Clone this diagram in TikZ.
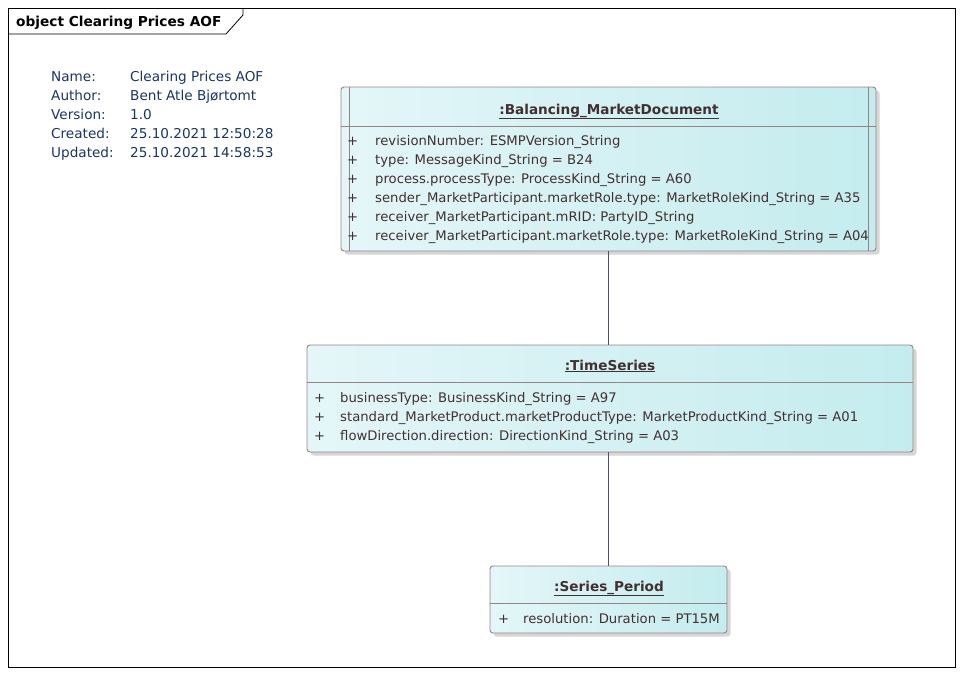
\documentclass[tikz,border=0pt]{standalone}
\usepackage{fontspec}
\setmainfont{DejaVu Sans}
\definecolor{bord}{RGB}{150,132,132}
\definecolor{fillL}{RGB}{228,246,248}
\definecolor{fillR}{RGB}{196,236,238}
\definecolor{txt}{RGB}{66,48,48}
\definecolor{navy}{RGB}{28,52,100}
\definecolor{conn}{RGB}{80,80,110}
\definecolor{shad}{RGB}{214,214,214}
\tikzset{
  umlbox/.style={rectangle, rounded corners=3pt, draw=bord, line width=0.9pt, left color=fillL, right color=fillR, inner sep=0pt},
  shadowbox/.style={rectangle, rounded corners=3pt, fill=shad, inner sep=0pt},
  sep/.style={draw=bord, line width=0.9pt},
  attr/.style={anchor=base west, inner sep=0pt, text=txt, font=\fontsize{13.2}{15}\selectfont},
  ttl/.style={anchor=base, inner sep=0pt, text=txt, font=\fontsize{13.6}{15}\selectfont\bfseries},
  info/.style={anchor=base west, inner sep=0pt, text=navy, font=\fontsize{13.6}{15}\selectfont},
  link/.style={draw=conn, line width=0.9pt},
  frame/.style={draw=black, line width=0.8pt}
}
\begin{document}
\begin{tikzpicture}[x=1pt,y=-1pt]
\useasboundingbox (0,0) rectangle (963,675);
% frame
\draw[frame] (8,8) rectangle (955,667);
\draw[frame] (8,34) -- (226,34) -- (243,15) -- (243,8);
\node[anchor=base west, inner sep=0pt, font=\fontsize{13.7}{15}\selectfont\bfseries] (title) at (16,26.5) {object Clearing Prices AOF};
% info
\node[info] (l1) at (51,81) {Name:};
\node[info] (l2) at (51,100) {Author:};
\node[info] (l3) at (51,119) {Version:};
\node[info] (l4) at (51,138) {Created:};
\node[info] (l5) at (51,157) {Updated:};
\node[info] (v1) at (130,81) {Clearing Prices AOF};
\node[info] (v2) at (130,100) {Bent Atle Bjørtomt};
\node[info] (v3) at (130,119) {1.0};
\node[info] (v4) at (130,138) {25.10.2021 12:50:28};
\node[info] (v5) at (130,157) {25.10.2021 14:58:53};
% shadows
\node[shadowbox, minimum width=535pt, minimum height=164pt] (docs) at (612,172.5) {};
\node[shadowbox, minimum width=606pt, minimum height=107pt] (tss) at (613.5,402) {};
\node[shadowbox, minimum width=237pt, minimum height=67pt] (sps) at (612,603) {};
% box 1
\node[umlbox, minimum width=535pt, minimum height=164pt] (doc) at (608.5,169) {};
\draw[sep] (341,126) -- (876,126);
\draw[sep] (349,87) -- (349,251);
\draw[sep] (868,87) -- (868,251);
\node[ttl] (doct) at (609,114) {\underline{:Balancing\_MarketDocument}};
\foreach \y/\t [count=\i] in {145/{revisionNumber: ESMPVersion\_String},164/{type: MessageKind\_String = B24},183/{process.processType: ProcessKind\_String = A60},202/{sender\_MarketParticipant.marketRole.type: MarketRoleKind\_String = A35},221/{receiver\_MarketParticipant.mRID: PartyID\_String},240/{receiver\_MarketParticipant.marketRole.type: MarketRoleKind\_String = A04}}{
  \node[attr] (dp\i) at (347,\y) {+};
  \node[attr] (da\i) at (375,\y) {\t};
}
% box 2
\node[umlbox, minimum width=606pt, minimum height=107pt] (ts) at (610,398.5) {};
\draw[sep] (307,382) -- (913,382);
\node[ttl] (tst) at (610,370) {\underline{:TimeSeries}};
\foreach \y/\t [count=\i] in {402/{businessType: BusinessKind\_String = A97},421/{standard\_MarketProduct.marketProductType: MarketProductKind\_String = A01},440/{flowDirection.direction: DirectionKind\_String = A03}}{
  \node[attr] (tp\i) at (314,\y) {+};
  \node[attr] (ta\i) at (340,\y) {\t};
}
% box 3
\node[umlbox, minimum width=237pt, minimum height=67pt] (sp) at (608.5,599.5) {};
\draw[sep] (490,603) -- (727,603);
\node[ttl] (spt) at (609,591) {\underline{:Series\_Period}};
\node[attr] (spp) at (498,623) {+};
\node[attr] (spa) at (523,623) {resolution: Duration = PT15M};
% connectors
\draw[link] (doc.south) -- (doc.south |- ts.north);
\draw[link] (ts.south -| sp.north) -- (sp.north);
\end{tikzpicture}
\end{document}
